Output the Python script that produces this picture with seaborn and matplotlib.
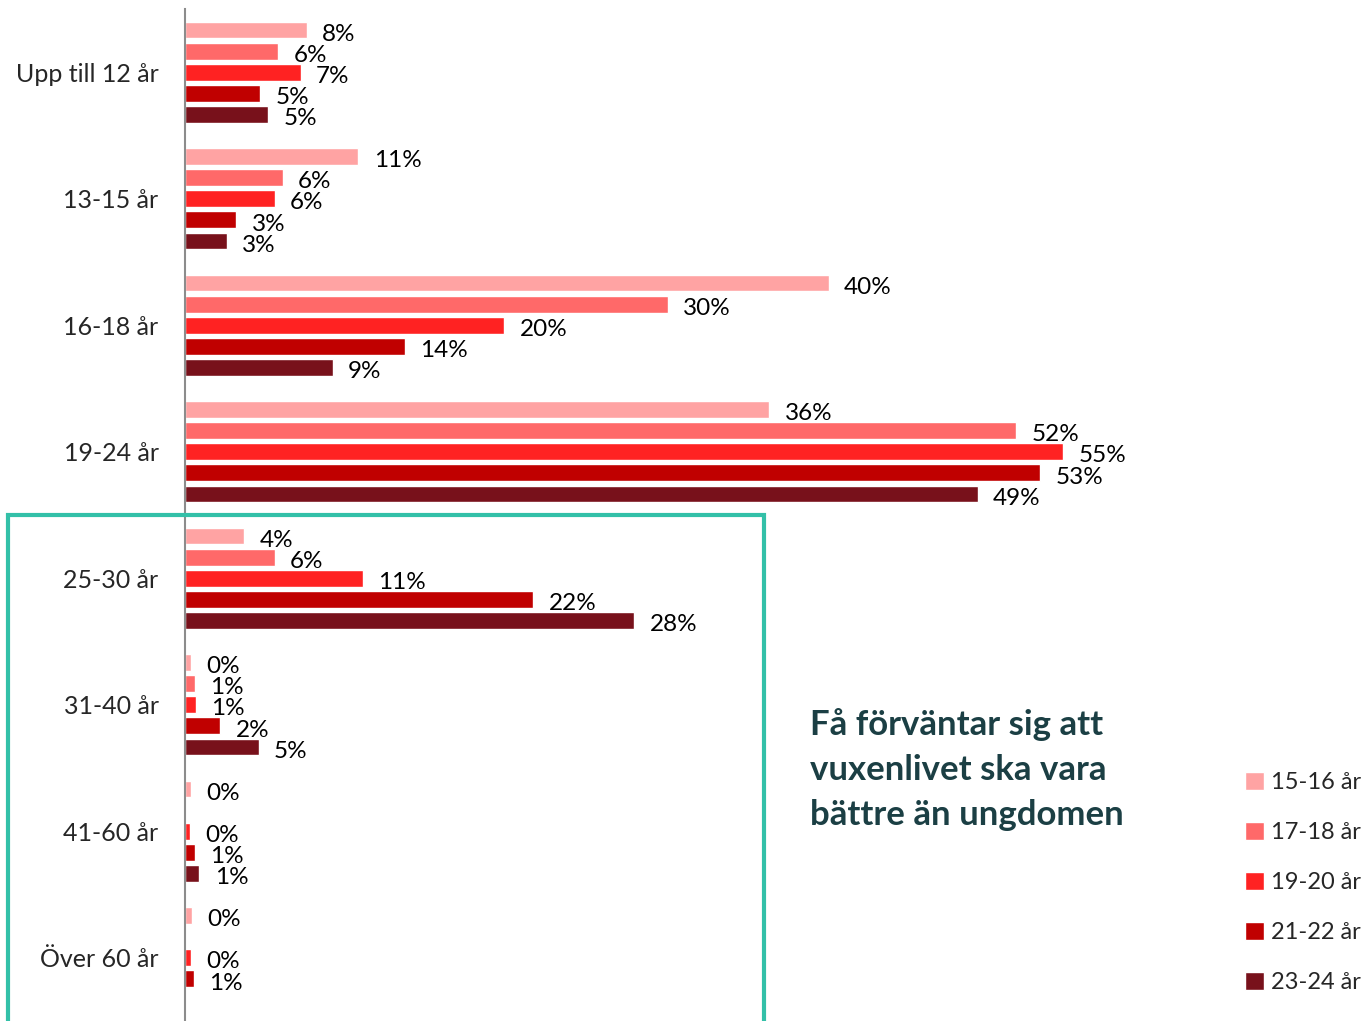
import matplotlib
matplotlib.use("Agg")
import matplotlib.pyplot as plt
import matplotlib.patches as mpatches
import numpy as np
import pandas as pd
import seaborn as sns

categories = ["Upp till 12 år", "13-15 år", "16-18 år", "19-24 år",
              "25-30 år", "31-40 år", "41-60 år", "Över 60 år"]
groups = ["15-16 år", "17-18 år", "19-20 år", "21-22 år", "23-24 år"]

# percent per age group (NaN = no bar shown)
v_15_16 = [7.6, 10.8, 40.1, 36.4, 3.7, 0.35, 0.35, 0.45]
v_17_18 = [5.8, 6.1, 30.1, 51.8, 5.6, 0.6, np.nan, np.nan]
v_19_20 = [7.2, 5.6, 19.9, 54.7, 11.1, 0.7, 0.3, 0.4]
v_21_22 = [4.7, 3.2, 13.7, 53.3, 21.7, 2.2, 0.6, 0.55]
v_23_24 = [5.2, 2.6, 9.2, 49.4, 28.0, 4.6, 0.9, np.nan]

colors = ["#FFA3A3", "#FF6969", "#FF2222", "#C00000", "#78111B"]

rows = []
for g, vals in zip(groups, [v_15_16, v_17_18, v_19_20, v_21_22, v_23_24]):
    for c, v in zip(categories, vals):
        rows.append({"kategori": c, "grupp": g, "andel": v})
df = pd.DataFrame(rows)

sns.set_style("white")
plt.rcParams["font.family"] = ["Lato", "DejaVu Sans"]

fig = plt.figure(figsize=(13.64, 10.21), dpi=100)
ax = fig.add_axes([185 / 1364, 0, (1230 - 185) / 1364, 1 - 9 / 1021])

sns.barplot(data=df, x="andel", y="kategori", hue="grupp", order=categories,
            hue_order=groups, palette=colors, saturation=1, errorbar=None,
            orient="y", width=0.835, gap=0.2, ax=ax, legend=True)

for cont in ax.containers:
    labels = ax.bar_label(cont, fmt="{:.0f}%", padding=11, fontsize=17.5,
                          color="black")
    for t in labels:
        t.set_va("center")
        t.set_y(-3)

ax.set_xlim(0, (1230 - 185) / 16.05)
ax.set_ylim(len(categories) - 0.5, -0.5)
ax.set_xlabel("")
ax.set_ylabel("")
ax.set_xticks([])
for s in ["top", "right", "bottom"]:
    ax.spines[s].set_visible(False)
ax.spines["left"].set_color("#8C8C8C")
ax.spines["left"].set_linewidth(1.5)
ax.tick_params(axis="y", length=0, pad=19, labelsize=18)

leg = ax.legend(loc="upper left", bbox_to_anchor=(1245 / 1364, 1 - 772 / 1021),
                bbox_transform=fig.transFigure, frameon=False, fontsize=17,
                handlelength=0.8, handleheight=0.8, handletextpad=0.3,
                labelspacing=1.22, borderaxespad=0, borderpad=0)

fig.text(810 / 1364, 1 - 770 / 1021,
         "Få förväntar sig att\nvuxenlivet ska vara\nbättre än ungdomen",
         fontsize=25, fontweight="bold", color="#1B3F44", va="center",
         ha="left", linespacing=1.5)
fig.patches.append(mpatches.Rectangle((8 / 1364, -0.01), (764 - 8) / 1364,
                                      1 - 515 / 1021 + 0.01, fill=False,
                                      edgecolor="#33C0A8", linewidth=3,
                                      transform=fig.transFigure, figure=fig))

fig.savefig("out.png", dpi=100)
